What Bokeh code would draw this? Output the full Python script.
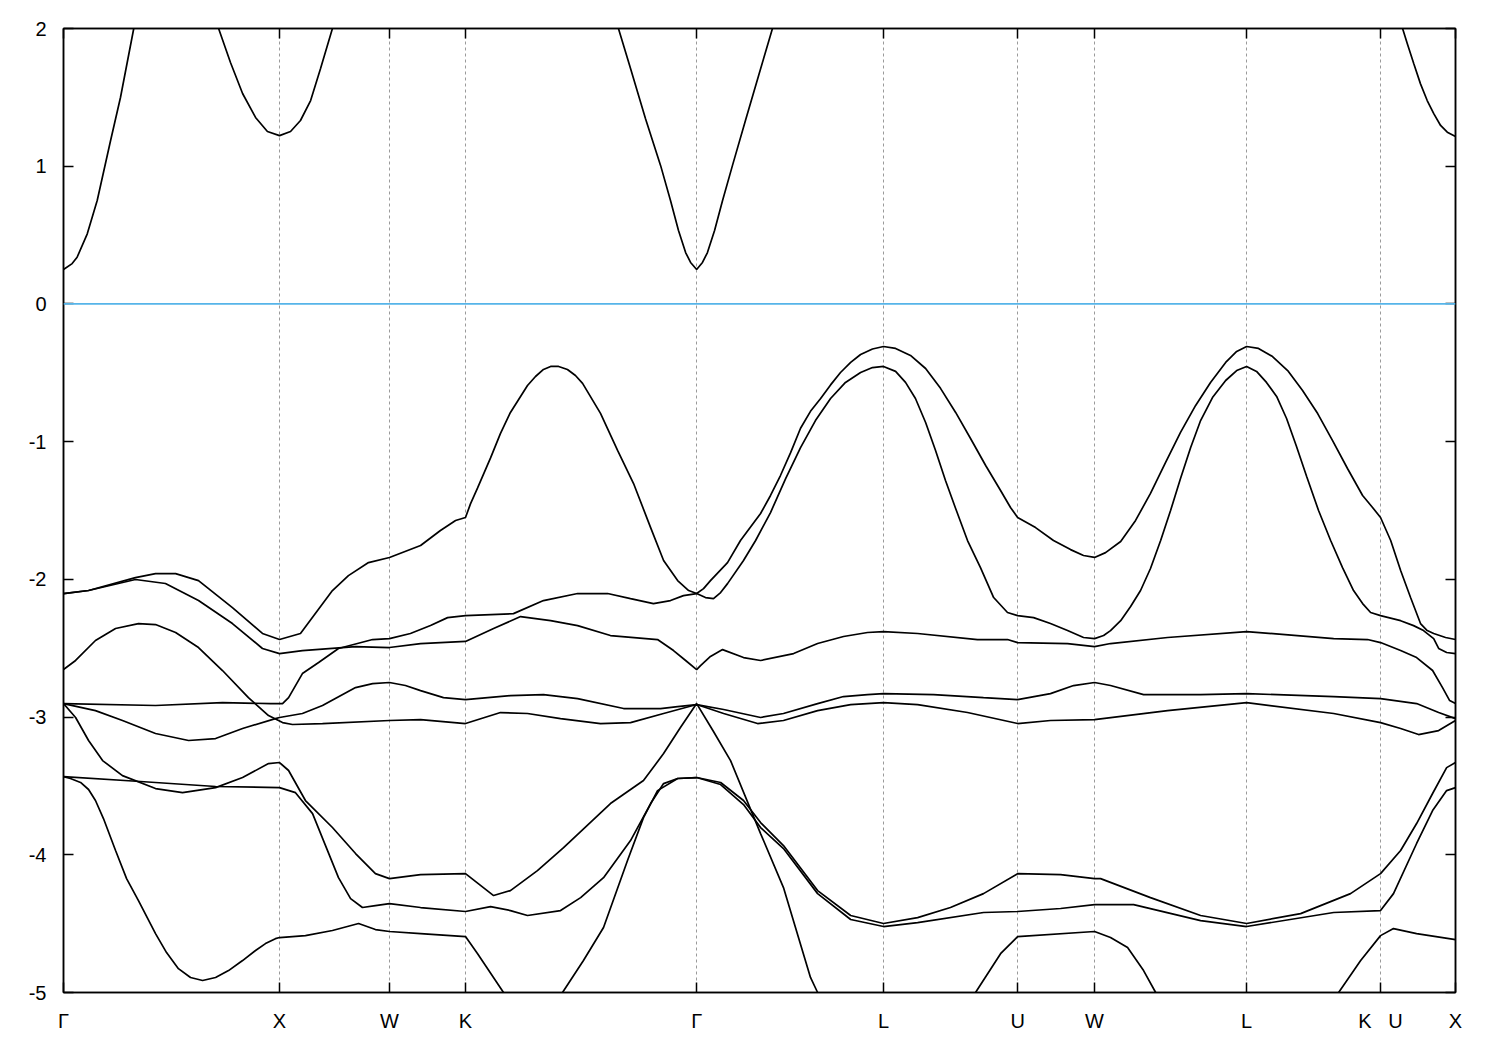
from bokeh.plotting import figure
from bokeh.models import FixedTicker, LinearAxis, Range1d, Span
from bokeh.embed import file_html
from bokeh.resources import INLINE

# high-symmetry points along the path (k in units of 2*pi/a, path distance)
tick_k = [0.000, 1.000, 1.509, 1.861, 2.931, 3.796, 4.417, 4.773, 5.477, 6.097, 6.444]
tick_labels = ["Γ", "X", "W", "K", "Γ", "L", "U", "W", "L", "K\u00a0\u00a0\u00a0U", "X"]
energy_ticks = [-5, -4, -3, -2, -1, 0, 1, 2]
energy_labels = ["-5", "-4", "-3", "-2", "-1", "0", "1", "2"]

# conduction band (values above 2 eV lie outside the visible window)
band_cb = [(0.000, 0.250), (0.040, 0.293), (0.063, 0.339), (0.110, 0.509), (0.156, 0.751),
           (0.218, 1.187), (0.264, 1.501), (0.325, 1.998), (0.403, 2.58), (0.519, 3.00),
           (0.634, 2.36), (0.718, 2.000), (0.773, 1.753), (0.829, 1.528), (0.889, 1.354),
           (0.944, 1.252), (1.000, 1.222), (1.051, 1.252), (1.097, 1.332), (1.144, 1.477),
           (1.190, 1.709), (1.245, 2.000), (1.306, 2.25), (1.700, 3.50), (2.200, 3.50),
           (2.509, 2.31), (2.569, 2.000), (2.625, 1.709), (2.694, 1.347), (2.764, 1.006),
           (2.810, 0.751), (2.847, 0.533), (2.880, 0.373), (2.903, 0.301), (2.931, 0.250),
           (2.958, 0.301), (2.981, 0.373), (3.014, 0.533), (3.051, 0.751), (3.097, 1.006),
           (3.157, 1.332), (3.218, 1.659), (3.282, 2.000), (3.343, 2.34), (4.000, 4.00),
           (5.500, 4.00), (6.144, 2.24), (6.199, 2.000), (6.221, 1.889), (6.251, 1.744),
           (6.282, 1.598), (6.313, 1.477), (6.344, 1.380), (6.375, 1.296), (6.406, 1.247),
           (6.444, 1.216)]

band_a = [(0.000, -2.103), (0.116, -2.081), (0.333, -1.987), (0.426, -1.958), (0.519, -1.958),
          (0.625, -2.009), (0.782, -2.205), (0.921, -2.393), (1.000, -2.437), (1.097, -2.393),
          (1.245, -2.081), (1.319, -1.973), (1.412, -1.878), (1.509, -1.841), (1.653, -1.754),
          (1.745, -1.645), (1.815, -1.573), (1.861, -1.551), (1.884, -1.452), (1.917, -1.336),
          (1.977, -1.118), (2.023, -0.940), (2.069, -0.788), (2.148, -0.592), (2.185, -0.527),
          (2.222, -0.476), (2.255, -0.454), (2.292, -0.454), (2.333, -0.476), (2.370, -0.520),
          (2.403, -0.577), (2.486, -0.795), (2.565, -1.064), (2.639, -1.304), (2.718, -1.624),
          (2.778, -1.863), (2.843, -2.009), (2.894, -2.081), (2.931, -2.103), (2.963, -2.067),
          (2.995, -2.009), (3.074, -1.878), (3.134, -1.718), (3.227, -1.522), (3.273, -1.391),
          (3.319, -1.246), (3.366, -1.080), (3.412, -0.903), (3.458, -0.780), (3.505, -0.687),
          (3.551, -0.588), (3.597, -0.498), (3.644, -0.425), (3.690, -0.367), (3.745, -0.327),
          (3.796, -0.309), (3.852, -0.323), (3.921, -0.374), (3.991, -0.469), (4.060, -0.613),
          (4.130, -0.788), (4.199, -0.977), (4.269, -1.173), (4.338, -1.355), (4.384, -1.478),
          (4.417, -1.551), (4.500, -1.624), (4.583, -1.718), (4.662, -1.784), (4.722, -1.827),
          (4.773, -1.841), (4.824, -1.806), (4.894, -1.725), (4.963, -1.572), (5.032, -1.376),
          (5.102, -1.150), (5.171, -0.933), (5.241, -0.737), (5.310, -0.570), (5.380, -0.425),
          (5.431, -0.345), (5.477, -0.309), (5.532, -0.323), (5.597, -0.382), (5.667, -0.484),
          (5.736, -0.629), (5.806, -0.796), (5.875, -0.992), (5.944, -1.195), (6.014, -1.391),
          (6.060, -1.478), (6.097, -1.551), (6.144, -1.718), (6.190, -1.936), (6.236, -2.132),
          (6.282, -2.321), (6.313, -2.372), (6.343, -2.393), (6.398, -2.422), (6.444, -2.437)]

band_d = [(0.000, -2.902), (0.426, -2.916), (0.736, -2.895), (0.958, -2.902), (1.014, -2.902),
          (1.042, -2.859), (1.106, -2.684), (1.181, -2.604), (1.273, -2.502), (1.431, -2.437),
          (1.509, -2.430), (1.606, -2.393), (1.699, -2.335), (1.778, -2.278), (1.861, -2.263),
          (2.083, -2.249), (2.222, -2.154), (2.380, -2.103), (2.519, -2.103), (2.625, -2.140),
          (2.731, -2.176), (2.810, -2.154), (2.870, -2.118), (2.931, -2.103), (2.972, -2.132),
          (3.009, -2.140), (3.042, -2.096), (3.074, -2.031), (3.148, -1.863), (3.204, -1.718),
          (3.273, -1.515), (3.343, -1.268), (3.412, -1.043), (3.481, -0.847), (3.551, -0.687),
          (3.620, -0.570), (3.690, -0.498), (3.745, -0.462), (3.796, -0.454), (3.852, -0.490),
          (3.898, -0.570), (3.944, -0.687), (3.991, -0.861), (4.037, -1.064), (4.083, -1.282),
          (4.130, -1.486), (4.185, -1.718), (4.245, -1.915), (4.306, -2.132), (4.370, -2.241),
          (4.417, -2.263), (4.491, -2.278), (4.569, -2.321), (4.648, -2.372), (4.722, -2.422),
          (4.773, -2.430), (4.815, -2.408), (4.847, -2.372), (4.894, -2.300), (4.940, -2.197),
          (4.986, -2.081), (5.032, -1.921), (5.079, -1.718), (5.125, -1.500), (5.171, -1.268),
          (5.218, -1.043), (5.264, -0.847), (5.319, -0.680), (5.380, -0.556), (5.431, -0.484),
          (5.477, -0.454), (5.523, -0.490), (5.569, -0.570), (5.616, -0.672), (5.662, -0.832),
          (5.708, -1.035), (5.755, -1.253), (5.810, -1.500), (5.866, -1.718), (5.921, -1.915),
          (5.972, -2.081), (6.014, -2.176), (6.051, -2.241), (6.097, -2.263), (6.190, -2.300),
          (6.250, -2.336), (6.296, -2.372), (6.343, -2.430), (6.366, -2.502), (6.403, -2.531),
          (6.444, -2.539)]

band_b = [(0.000, -2.103), (0.116, -2.081), (0.333, -2.001), (0.472, -2.030), (0.625, -2.154),
          (0.782, -2.321), (0.921, -2.502), (1.000, -2.539), (1.106, -2.517), (1.352, -2.488),
          (1.509, -2.495), (1.653, -2.466), (1.861, -2.451), (1.991, -2.357), (2.116, -2.270),
          (2.255, -2.300), (2.380, -2.336), (2.532, -2.408), (2.750, -2.437), (2.824, -2.517),
          (2.880, -2.589), (2.931, -2.655), (2.949, -2.626), (2.995, -2.560), (3.051, -2.510),
          (3.148, -2.568), (3.227, -2.589), (3.380, -2.539), (3.491, -2.466), (3.611, -2.415),
          (3.722, -2.386), (3.796, -2.379), (3.954, -2.393), (4.231, -2.437), (4.370, -2.437),
          (4.417, -2.459), (4.648, -2.466), (4.773, -2.488), (4.847, -2.466), (5.111, -2.422),
          (5.477, -2.379), (5.880, -2.430), (6.037, -2.437), (6.097, -2.459), (6.190, -2.517),
          (6.264, -2.568), (6.338, -2.662), (6.384, -2.786), (6.417, -2.880), (6.444, -2.902)]

band_c = [(0.000, -2.655), (0.056, -2.589), (0.148, -2.444), (0.241, -2.357), (0.347, -2.321),
          (0.426, -2.328), (0.519, -2.386), (0.625, -2.495), (0.736, -2.662), (0.856, -2.859),
          (0.949, -2.989), (1.014, -3.040), (1.060, -3.054), (1.199, -3.047), (1.509, -3.025),
          (1.653, -3.018), (1.861, -3.047), (2.023, -2.967), (2.148, -2.974), (2.301, -3.011),
          (2.486, -3.047), (2.625, -3.040), (2.778, -2.974), (2.931, -2.909), (3.056, -2.974),
          (3.213, -3.047), (3.333, -3.025), (3.491, -2.953), (3.644, -2.909), (3.796, -2.895),
          (3.954, -2.909), (4.185, -2.967), (4.417, -3.047), (4.569, -3.025), (4.773, -3.018),
          (5.111, -2.953), (5.477, -2.895), (5.880, -2.974), (6.097, -3.040), (6.190, -3.083),
          (6.273, -3.127), (6.366, -3.098), (6.444, -3.025)]

band_e = [(0.000, -2.902), (0.148, -2.953), (0.273, -3.025), (0.426, -3.119), (0.579, -3.170),
          (0.704, -3.156), (0.829, -3.083), (0.981, -3.011), (1.000, -3.003), (1.106, -2.974),
          (1.199, -2.916), (1.352, -2.786), (1.431, -2.757), (1.509, -2.749), (1.583, -2.771),
          (1.653, -2.808), (1.759, -2.859), (1.861, -2.873), (2.069, -2.844), (2.222, -2.837),
          (2.380, -2.866), (2.593, -2.938), (2.764, -2.938), (2.843, -2.924), (2.931, -2.909),
          (3.056, -2.945), (3.227, -3.003), (3.333, -2.974), (3.491, -2.902), (3.611, -2.851),
          (3.722, -2.837), (3.796, -2.830), (4.028, -2.837), (4.259, -2.859), (4.417, -2.873),
          (4.569, -2.830), (4.676, -2.771), (4.773, -2.749), (4.847, -2.771), (5.000, -2.837),
          (5.264, -2.837), (5.477, -2.830), (5.880, -2.851), (6.097, -2.866), (6.264, -2.902),
          (6.366, -2.967), (6.444, -3.011)]

band_f = [(0.000, -2.902), (0.056, -3.003), (0.116, -3.170), (0.181, -3.316), (0.273, -3.425),
          (0.426, -3.519), (0.551, -3.549), (0.704, -3.512), (0.829, -3.439), (0.949, -3.338),
          (1.000, -3.330), (1.042, -3.388), (1.120, -3.606), (1.245, -3.802), (1.352, -3.991),
          (1.444, -4.137), (1.509, -4.173), (1.653, -4.144), (1.861, -4.137), (1.991, -4.296),
          (2.069, -4.260), (2.194, -4.115), (2.315, -3.948), (2.532, -3.628), (2.685, -3.461),
          (2.778, -3.265), (2.856, -3.076), (2.931, -2.902), (3.009, -3.105), (3.088, -3.316),
          (3.227, -3.846), (3.333, -4.238), (3.458, -4.891), (3.491, -5.000), (3.597, -5.30),
          (3.875, -5.60), (4.106, -5.30), (4.222, -5.000), (4.338, -4.718), (4.417, -4.594),
          (4.773, -4.557), (4.847, -4.601), (4.926, -4.674), (5.000, -4.841), (5.056, -5.000),
          (5.264, -5.40), (5.727, -5.40), (5.903, -5.000), (6.005, -4.768), (6.097, -4.587),
          (6.157, -4.536), (6.264, -4.572), (6.444, -4.616)]

band_g = [(0.000, -3.432), (0.356, -3.468), (0.704, -3.504), (1.000, -3.512), (1.074, -3.549),
          (1.153, -3.701), (1.213, -3.933), (1.273, -4.166), (1.329, -4.318), (1.384, -4.383),
          (1.444, -4.369), (1.509, -4.354), (1.653, -4.383), (1.861, -4.412), (1.977, -4.376),
          (2.069, -4.405), (2.148, -4.441), (2.301, -4.405), (2.394, -4.311), (2.500, -4.166),
          (2.625, -3.897), (2.718, -3.628), (2.778, -3.483), (2.843, -3.446), (2.931, -3.439),
          (3.042, -3.475), (3.148, -3.606), (3.227, -3.766), (3.333, -3.933), (3.491, -4.260),
          (3.644, -4.441), (3.796, -4.499), (3.954, -4.456), (4.106, -4.383), (4.259, -4.282),
          (4.417, -4.137), (4.616, -4.144), (4.773, -4.173), (4.801, -4.173), (5.032, -4.311),
          (5.264, -4.441), (5.477, -4.499), (5.727, -4.427), (5.958, -4.282), (6.097, -4.137),
          (6.190, -3.969), (6.264, -3.773), (6.338, -3.555), (6.403, -3.367), (6.444, -3.330)]

band_h = [(0.000, -3.432), (0.032, -3.446), (0.079, -3.475), (0.116, -3.526), (0.148, -3.606),
          (0.185, -3.737), (0.241, -3.969), (0.292, -4.173), (0.347, -4.333), (0.426, -4.572),
          (0.477, -4.710), (0.532, -4.827), (0.588, -4.891), (0.644, -4.913), (0.704, -4.891),
          (0.764, -4.841), (0.829, -4.768), (0.889, -4.695), (0.935, -4.645), (0.981, -4.609),
          (1.000, -4.601), (1.120, -4.587), (1.245, -4.550), (1.366, -4.499), (1.444, -4.543),
          (1.509, -4.557), (1.653, -4.572), (1.861, -4.594), (1.917, -4.718), (2.037, -5.000),
          (2.162, -5.40), (2.231, -5.40), (2.310, -5.000), (2.407, -4.768), (2.500, -4.528),
          (2.611, -4.042), (2.685, -3.730), (2.750, -3.534), (2.843, -3.446), (2.931, -3.439),
          (3.042, -3.490), (3.148, -3.635), (3.227, -3.802), (3.333, -3.955), (3.491, -4.282),
          (3.644, -4.470), (3.796, -4.521), (3.954, -4.492), (4.259, -4.419), (4.417, -4.412),
          (4.616, -4.390), (4.773, -4.362), (4.954, -4.362), (5.264, -4.478), (5.477, -4.521),
          (5.880, -4.419), (6.097, -4.405), (6.157, -4.282), (6.264, -3.918), (6.338, -3.679),
          (6.403, -3.534), (6.444, -3.512)]

bands = [band_cb, band_a, band_b, band_c, band_d, band_e, band_f, band_g, band_h]

FONT = "Liberation Sans"

p = figure(width=1492, height=1040,
           x_range=Range1d(tick_k[0], tick_k[-1]), y_range=Range1d(-5, 2),
           output_backend="svg", toolbar_location=None,
           min_border_left=63, min_border_right=37, min_border_top=28, min_border_bottom=48)
p.background_fill_color = "white"
p.border_fill_color = "white"
p.outline_line_color = "black"
p.outline_line_width = 1.5

# grid: vertical dotted lines at the high-symmetry points
p.ygrid.visible = False
p.xgrid.ticker = FixedTicker(ticks=tick_k[1:-1])
p.xgrid.grid_line_color = "#9a9a9a"
p.xgrid.grid_line_dash = "3 3"
p.xgrid.grid_line_width = 1

def style_axis(ax):
    ax.major_tick_in = 10
    ax.major_tick_out = 0
    ax.minor_tick_in = 0
    ax.minor_tick_out = 0
    ax.major_tick_line_color = "black"
    ax.major_tick_line_width = 1.5
    ax.axis_line_color = "black"
    ax.axis_line_width = 1.5
    ax.major_label_text_font = FONT
    ax.major_label_text_font_size = "20px"
    ax.major_label_text_color = "black"
    ax.major_label_standoff = 17
    ax.axis_label = None

xax = p.xaxis[0]
xax.ticker = FixedTicker(ticks=tick_k)
xax.major_label_overrides = {k: lab for k, lab in zip(tick_k, tick_labels)}
style_axis(xax)

yax = p.yaxis[0]
yax.ticker = FixedTicker(ticks=energy_ticks)
yax.major_label_overrides = {e: lab for e, lab in zip(energy_ticks, energy_labels)}
style_axis(yax)

top = LinearAxis(ticker=FixedTicker(ticks=tick_k))
top.major_label_overrides = {k: "" for k in tick_k}
style_axis(top)
p.add_layout(top, "above")

right = LinearAxis(ticker=FixedTicker(ticks=energy_ticks))
right.major_label_overrides = {e: "" for e in energy_ticks}
style_axis(right)
p.add_layout(right, "right")

# zero-energy reference line
p.add_layout(Span(location=0, dimension="width", line_color="#56b4e9", line_width=1.8))

for band in bands:
    ks = [pt[0] for pt in band]
    es = [pt[1] for pt in band]
    p.line(ks, es, line_color="black", line_width=1.7)

open("out.html", "w").write(file_html(p, INLINE))
